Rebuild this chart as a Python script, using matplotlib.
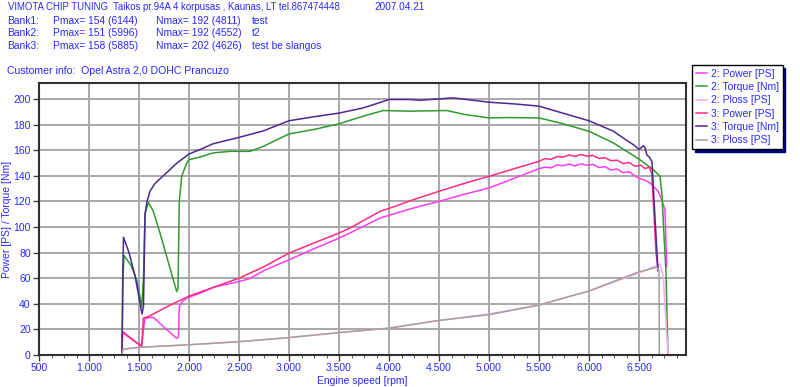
import matplotlib
matplotlib.use('Agg')
import matplotlib.pyplot as plt
from matplotlib.ticker import MultipleLocator, FuncFormatter

plt.rcParams['font.family'] = ['Liberation Sans', 'DejaVu Sans']
plt.rcParams['font.size'] = 7

BLUE = '#2a2aff'

# --- data ---
rpm_p2 = [1327, 1337, 1430, 1527, 1545, 1560, 1643, 1760, 1877, 1895, 1903, 1930, 1977, 2100, 2250,
          2500, 2600, 2750, 3000, 3250, 3500, 3610, 3910, 4243, 4500, 4750, 5000, 5250, 5500, 5560,
          5620, 5680, 5740, 5800, 5860, 5920, 5980, 6040, 6100, 6160, 6220, 6280, 6340, 6400, 6460,
          6500, 6560, 6610, 6693, 6727, 6760, 6777]
power2 = [0, 17.5, 12, 7, 20, 28.7, 29.5, 21, 13, 14, 37.8, 41.5, 44.4, 48, 53,
          57.4, 59.5, 66, 74.4, 83, 91.3, 95.3, 107, 114.8, 120, 125.5, 130.5, 138, 145.5, 146.8,
          146.2, 148.5, 147.9, 149.1, 147.8, 149.3, 148.2, 148.9, 146.4, 147.2, 144.5, 145.3, 142.4, 143.2, 139.8,
          138, 136.5, 134.4, 127.9, 121.3, 113.5, 69]

rpm_t2 = [1330, 1340, 1350, 1420, 1480, 1527, 1545, 1560, 1593, 1640, 1710, 1777, 1843, 1877, 1890,
          1903, 1927, 1977, 2000, 2110, 2243, 2410, 2610, 2743, 3000, 3243, 3500, 3743, 3943, 4210,
          4577, 4750, 4877, 5000, 5200, 5500, 5710, 6000, 6243, 6400, 6500, 6643, 6710, 6730, 6743, 6770, 6790]
torque2 = [0, 60, 77.7, 70, 58, 38, 60, 110, 119.2, 113, 95.2, 77, 58.7, 49.6, 52,
           120, 139.6, 150, 152.6, 154.7, 157.9, 159.1, 159.1, 163, 172.7, 176.1, 180.6, 186.6, 191, 190.5,
           191, 188, 186.6, 185.2, 185.5, 185.2, 181.3, 174.8, 165.7, 158, 153, 144.8, 139.6, 125, 104.3, 64, 0]

rpm_l2 = [1330, 1340, 1500, 2000, 2500, 3000, 3500, 4000, 4500, 5000, 5500, 6000, 6500, 6680, 6710, 6743, 6790]
ploss2 = [0, 4.5, 6, 8, 10.4, 13.6, 17.5, 21, 27, 32, 39.1, 50, 64, 70, 71.2, 61, 0]

rpm_p3 = [1327, 1337, 1430, 1527, 1543, 1593, 1800, 2000, 2250, 2500, 2750, 3000, 3250, 3500, 3610,
          3910, 4000, 4243, 4500, 4750, 5000, 5250, 5500, 5560, 5620, 5680, 5740, 5800, 5860, 5920,
          5980, 6040, 6100, 6160, 6220, 6280, 6340, 6400, 6460, 6520, 6560, 6600, 6627, 6650, 6670, 6690]
power3 = [0, 18.3, 12.5, 6.5, 28.7, 30, 38.5, 46, 53, 60, 69, 79.6, 87.5, 95.3, 99.2,
          112.2, 114.5, 121.3, 127.9, 134, 139.6, 145.5, 151.3, 153.5, 152.8, 155, 154.6, 156.3, 155.2, 156.6,
          155.4, 155.9, 153.6, 154.1, 151.8, 152.2, 149.6, 150.4, 147.5, 148.3, 145.6, 146.8, 142.2, 110, 80, 66.5]

rpm_t3 = [1330, 1338, 1345, 1400, 1460, 1530, 1545, 1560, 1580, 1610, 1660, 1743, 1880, 2000, 2110,
          2240, 2500, 2740, 3000, 3240, 3500, 3740, 3900, 4000, 4210, 4310, 4640, 5000, 5280, 5500,
          5780, 6000, 6240, 6400, 6450, 6500, 6545, 6560, 6580, 6600, 6630, 6660, 6690]
torque3 = [0, 65, 92, 80, 62, 32, 38, 110, 120, 128, 134, 140, 150, 157, 160.5,
           165, 170, 175, 183, 186, 189, 193, 197, 199.6, 199.6, 199, 200.9, 197.5, 196, 194.4,
           188, 183, 175, 166.5, 164, 160.5, 163.5, 162, 156, 155, 151, 107, 66]

rpm_l3 = [1330, 1340, 1500, 2000, 2500, 3000, 3500, 4000, 4500, 5000, 5500, 6000, 6500, 6677, 6700, 6703]
ploss3 = [0, 4.5, 6, 8, 10.4, 13.6, 17.5, 21, 27, 31.5, 39, 50, 65, 68.5, 66, 0]

series = [
    ('2: Power [PS]', rpm_p2, power2, '#ff3cf0'),
    ('2: Torque [Nm]', rpm_t2, torque2, '#2f9a2f'),
    ('2: Ploss [PS]', rpm_l2, ploss2, '#ffa8f0'),
    ('3: Power [PS]', rpm_p3, power3, '#ff2a80'),
    ('3: Torque [Nm]', rpm_t3, torque3, '#4a2a90'),
    ('3: Ploss [PS]', rpm_l3, ploss3, '#a0a0a0'),
]

fig = plt.figure(figsize=(8, 3.87), dpi=100)
ax = fig.add_axes([39/800, 1-355/387, 647/800, 272/387])

for label, x, y, c in series:
    ax.plot(x, y, color=c, lw=1.1, label=label)

ax.set_xlim(500, 6970)
ax.set_ylim(0, 212.5)
ax.xaxis.set_major_locator(MultipleLocator(500))
ax.xaxis.set_minor_locator(MultipleLocator(125))
ax.yaxis.set_major_locator(MultipleLocator(20))
ax.xaxis.set_major_formatter(FuncFormatter(lambda v, p: f"{int(v):,}".replace(',', '.')))
ax.grid(True, which='major', color='#a8a8a8', lw=1.4)
ax.set_axisbelow(True)
ax.tick_params(colors='#404040', labelcolor=BLUE, labelsize=7.5, length=4, width=1, pad=2)
ax.tick_params(which='minor', length=2.5, color='#404040')
for s in ax.spines.values():
    s.set_color('#303030')
    s.set_linewidth(1.5)

ax.set_xlabel('Engine speed [rpm]', color=BLUE, fontsize=7.5)
ax.xaxis.set_label_coords(0.5, -0.078)
ax.set_ylabel('Power [PS] / Torque [Nm]', color=BLUE, fontsize=7.5)
ax.yaxis.set_label_coords(-0.042, 0.5)

# header text
def ftxt(x, y, s, size=7.4):
    fig.text(x/800, 1-y/387, s, color=BLUE, fontsize=size, va='center', ha='left')

ftxt(8, 7, 'VIMOTA CHIP TUNING  Taikos pr.94A 4 korpusas , Kaunas, LT tel.867474448', 6.9)
ftxt(374, 7, '2007.04.21', 7.2)
banks = [('Bank1:', 'Pmax= 154 (6144)', 'Nmax= 192 (4811)', 'test'),
         ('Bank2:', 'Pmax= 151 (5996)', 'Nmax= 192 (4552)', 't2'),
         ('Bank3:', 'Pmax= 158 (5885)', 'Nmax= 202 (4626)', 'test be slangos')]
for i, (b, p, n, note) in enumerate(banks):
    yy = 21 + i*12.5
    ftxt(7, yy, b)
    ftxt(53, yy, p)
    ftxt(156, yy, n)
    ftxt(252, yy, note)
ftxt(7, 71, 'Customer info:  Opel Astra 2,0 DOHC Prancuzo', 7.6)

leg = fig.legend(loc='upper left', bbox_to_anchor=(692/800, 1-65/387), fontsize=7.5,
                 frameon=True, fancybox=False, shadow={'color': '#000080', 'alpha': 1},
                 handlelength=1.1, handletextpad=0.35, labelspacing=0.32,
                 borderpad=0.35, borderaxespad=0)
leg.get_frame().set_edgecolor('black')
leg.get_frame().set_linewidth(1)
for t in leg.get_texts():
    t.set_color(BLUE)

fig.savefig('out.png', dpi=100)
